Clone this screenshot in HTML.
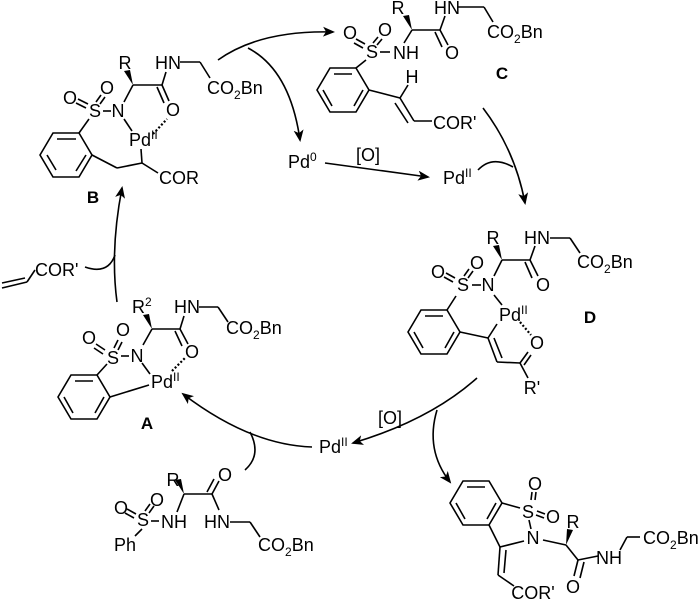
<!DOCTYPE html>
<html><head><style>
html,body{margin:0;padding:0;background:#fff}
svg{display:block}
text{font-family:"Liberation Sans",Arial,sans-serif;font-size:18px;fill:#000}
.m{text-anchor:middle}
.b{font-weight:bold;font-size:17px}
.s{font-size:12px}
</style></head><body>
<svg width="700" height="600" viewBox="0 0 700 600" xmlns="http://www.w3.org/2000/svg">
<defs>
<marker id="ah" markerWidth="12" markerHeight="10" refX="10" refY="5" orient="auto" markerUnits="userSpaceOnUse">
<path d="M0,0 L12,5 L0,10 L3,5 Z" fill="#000"/></marker>
</defs>
<g stroke="#000" stroke-width="1.6" fill="none">
<!-- B -->
<polygon points="40,155 53,133 79,133 92,155 79,177 53,177"/>
<line x1="57" y1="139" x2="76" y2="139"/><line x1="47" y1="155" x2="56" y2="170"/><line x1="86" y1="155" x2="76" y2="171"/>
<line x1="79" y1="133" x2="89" y2="119"/>
<line x1="88" y1="104" x2="78" y2="99"/><line x1="86" y1="108" x2="76" y2="103"/>
<line x1="96" y1="102" x2="101" y2="95"/><line x1="100" y1="104" x2="105" y2="97"/>
<line x1="103" y1="111" x2="111" y2="111"/>
<line x1="124" y1="102" x2="133" y2="85"/><line x1="133" y1="85" x2="162" y2="85"/>
<line x1="162" y1="85" x2="166" y2="72"/><line x1="162" y1="85" x2="169" y2="101"/><line x1="157" y1="87" x2="164" y2="103"/>
<line x1="180" y1="62" x2="200" y2="62"/><line x1="200" y1="62" x2="210" y2="78"/>
<line x1="124" y1="119" x2="132" y2="131"/>
<line x1="92" y1="155" x2="117" y2="168"/><line x1="117" y1="168" x2="142" y2="163"/><line x1="142" y1="163" x2="141" y2="149"/><line x1="142" y1="163" x2="158" y2="173"/>
<line x1="153" y1="134" x2="167" y2="119" stroke-dasharray="2,2" stroke-width="2.2"/>
<!-- C -->
<polygon points="317,90 330,68 356,68 369,90 356,112 330,112"/>
<line x1="334" y1="74" x2="352" y2="74"/><line x1="323" y1="90" x2="332" y2="106"/><line x1="363" y1="90" x2="354" y2="106"/>
<line x1="356" y1="68" x2="366" y2="60"/>
<line x1="365" y1="44" x2="356" y2="39"/><line x1="363" y1="48" x2="354" y2="43"/>
<line x1="373" y1="43" x2="378" y2="37"/><line x1="377" y1="45" x2="382" y2="39"/>
<line x1="380" y1="52" x2="390" y2="52"/>
<line x1="404" y1="43" x2="412" y2="30"/><line x1="412" y1="30" x2="440" y2="30"/>
<line x1="440" y1="30" x2="445" y2="16"/><line x1="440" y1="30" x2="448" y2="45"/><line x1="435" y1="32" x2="442" y2="47"/>
<line x1="458" y1="7" x2="484" y2="7"/><line x1="484" y1="7" x2="493" y2="22"/>
<line x1="369" y1="90" x2="400" y2="98"/><line x1="400" y1="98" x2="408" y2="85"/>
<line x1="400" y1="98" x2="414" y2="121"/><line x1="395" y1="103" x2="408" y2="123"/><line x1="414" y1="121" x2="432" y2="121"/>
<!-- D -->
<polygon points="408,332 421,310 447,310 460,332 447,354 421,354"/>
<line x1="425" y1="316" x2="443" y2="316"/><line x1="414" y1="332" x2="423" y2="348"/><line x1="454" y1="332" x2="445" y2="348"/>
<line x1="447" y1="310" x2="456" y2="296"/>
<line x1="455" y1="278" x2="446" y2="273"/><line x1="453" y1="282" x2="444" y2="277"/>
<line x1="464" y1="276" x2="469" y2="269"/><line x1="468" y1="278" x2="473" y2="271"/>
<line x1="472" y1="285" x2="481" y2="285"/>
<line x1="494" y1="276" x2="502" y2="260"/><line x1="502" y1="260" x2="530" y2="260"/>
<line x1="530" y1="260" x2="535" y2="246"/><line x1="530" y1="260" x2="538" y2="276"/><line x1="525" y1="262" x2="532" y2="278"/>
<line x1="550" y1="238" x2="570" y2="238"/><line x1="570" y1="238" x2="580" y2="253"/>
<line x1="494" y1="295" x2="502" y2="305"/>
<line x1="460" y1="332" x2="488" y2="338"/><line x1="488" y1="338" x2="497" y2="324"/>
<line x1="488" y1="338" x2="497" y2="362"/><line x1="494" y1="338" x2="502" y2="358"/>
<line x1="497" y1="362" x2="520" y2="363"/><line x1="520" y1="363" x2="528" y2="352"/><line x1="524" y1="365" x2="531" y2="355"/><line x1="520" y1="363" x2="528" y2="378"/>
<line x1="520" y1="322" x2="531" y2="335" stroke-dasharray="2,2" stroke-width="2.2"/>
<!-- A -->
<polygon points="58,397 71,375 97,375 110,397 97,419 71,419"/>
<line x1="75" y1="381" x2="93" y2="381"/><line x1="64" y1="397" x2="73" y2="413"/><line x1="104" y1="397" x2="95" y2="413"/>
<line x1="97" y1="375" x2="107" y2="364"/>
<line x1="105" y1="350" x2="96" y2="344"/><line x1="103" y1="354" x2="94" y2="348"/>
<line x1="114" y1="348" x2="118" y2="340"/><line x1="118" y1="350" x2="122" y2="342"/>
<line x1="121" y1="356" x2="129" y2="356"/>
<line x1="143" y1="345" x2="152" y2="329"/><line x1="152" y1="329" x2="180" y2="329"/>
<line x1="180" y1="329" x2="184" y2="316"/><line x1="180" y1="329" x2="188" y2="344"/><line x1="175" y1="331" x2="182" y2="346"/>
<line x1="199" y1="307" x2="218" y2="307"/><line x1="218" y1="307" x2="228" y2="322"/>
<line x1="142" y1="363" x2="150" y2="374"/>
<line x1="110" y1="397" x2="149" y2="385"/>
<line x1="172" y1="371" x2="186" y2="357" stroke-dasharray="2,2" stroke-width="2.2"/>
<!-- substrate -->
<line x1="136" y1="514" x2="127" y2="509"/><line x1="134" y1="518" x2="125" y2="513"/>
<line x1="145" y1="511" x2="150" y2="504"/><line x1="149" y1="513" x2="154" y2="506"/>
<line x1="151" y1="521" x2="159" y2="521"/>
<line x1="177" y1="512" x2="184" y2="494"/><line x1="184" y1="494" x2="212" y2="494"/>
<line x1="212" y1="494" x2="219" y2="481"/><line x1="207" y1="492" x2="214" y2="479"/>
<line x1="212" y1="494" x2="219" y2="510"/>
<line x1="230" y1="522" x2="250" y2="522"/><line x1="250" y1="522" x2="260" y2="537"/>
<line x1="142" y1="529" x2="135" y2="536"/>
<!-- product -->
<polygon points="450,503 463,481 489,481 502,503 489,525 463,525"/>
<line x1="467" y1="487" x2="485" y2="487"/><line x1="456" y1="503" x2="465" y2="519"/><line x1="496" y1="503" x2="487" y2="519"/>
<line x1="502" y1="503" x2="520" y2="508"/><line x1="489" y1="525" x2="500" y2="547"/>
<line x1="531" y1="500" x2="532" y2="492"/><line x1="535" y1="500" x2="536" y2="492"/>
<line x1="537" y1="511" x2="545" y2="514"/><line x1="536" y1="515" x2="544" y2="518"/>
<line x1="529" y1="520" x2="531" y2="529"/>
<line x1="524" y1="541" x2="500" y2="547"/>
<line x1="500" y1="547" x2="498" y2="575"/><line x1="506" y1="550" x2="504" y2="573"/>
<line x1="498" y1="575" x2="514" y2="586"/>
<line x1="543" y1="540" x2="566" y2="545"/>
<line x1="566" y1="545" x2="578" y2="560"/>
<line x1="578" y1="560" x2="574" y2="576"/><line x1="584" y1="562" x2="580" y2="578"/>
<line x1="578" y1="560" x2="598" y2="556"/>
<line x1="620" y1="550" x2="627" y2="537"/><line x1="627" y1="537" x2="640" y2="537"/>
<!-- acrylate -->
<line x1="2" y1="288" x2="27" y2="282"/><line x1="2" y1="283" x2="25" y2="278"/><line x1="27" y1="282" x2="35" y2="270"/>
<!-- arrows -->
<path d="M218,60 Q260,30 333,32" marker-end="url(#ah)"/>
<path d="M248,48 Q290,70 300,140" marker-end="url(#ah)"/>
<path d="M325,163 L428,177" marker-end="url(#ah)"/>
<path d="M483,108 Q515,150 525,203" marker-end="url(#ah)"/>
<path d="M478,170 Q492,155 513,167"/>
<path d="M477,378 Q430,420 353,443" marker-end="url(#ah)"/>
<path d="M437,410 Q425,450 450,482" marker-end="url(#ah)"/>
<path d="M312,447 Q250,445 183,394" marker-end="url(#ah)"/>
<path d="M245,470 Q262,455 250,432"/>
<path d="M117,302 Q110,250 122,188" marker-end="url(#ah)"/>
<path d="M85,267 Q108,275 115,255"/>
</g>
<!-- wedges -->
<polygon points="133,85 124,71 130,70" fill="#000"/>
<polygon points="412,30 403,16 409,15" fill="#000"/>
<polygon points="502,260 493,246 499,245" fill="#000"/>
<polygon points="152,329 143,315 149,314" fill="#000"/>
<polygon points="184,494 175,480 181,479" fill="#000"/>
<polygon points="566,545 567,529 573,530" fill="#000"/>
<!-- B text -->
<text class="m" x="125" y="69">R</text><text class="m" x="168" y="69">HN</text>
<text x="207" y="94">CO<tspan class="s" dy="5">2</tspan><tspan dy="-5">Bn</tspan></text>
<text class="m" x="70" y="104">O</text><text class="m" x="107" y="94">O</text>
<text class="m" x="95" y="117">S</text><text class="m" x="118" y="117">N</text><text class="m" x="173" y="116">O</text>
<text x="129" y="146">Pd<tspan class="s" dy="-7">II</tspan></text>
<text x="159" y="184">COR</text><text class="b m" x="93" y="203">B</text>
<!-- C -->
<text class="m" x="398" y="14">R</text><text class="m" x="447" y="14">HN</text>
<text x="487" y="38">CO<tspan class="s" dy="5">2</tspan><tspan dy="-5">Bn</tspan></text>
<text class="m" x="350" y="39">O</text><text class="m" x="385" y="36">O</text>
<text class="m" x="372" y="58">S</text><text class="m" x="406" y="59">NH</text><text class="m" x="452" y="59">O</text>
<text class="b m" x="502" y="79">C</text>
<text class="m" x="412" y="83">H</text><text x="433" y="129">COR'</text>
<!-- Pd0 etc -->
<text x="288" y="168">Pd<tspan class="s" dy="-7">0</tspan></text>
<text class="m" x="368" y="161">[O]</text>
<text x="443" y="184">Pd<tspan class="s" dy="-7">II</tspan></text>
<!-- D -->
<text class="m" x="493" y="244">R</text><text class="m" x="537" y="244">HN</text>
<text x="577" y="268">CO<tspan class="s" dy="5">2</tspan><tspan dy="-5">Bn</tspan></text>
<text class="m" x="438" y="278">O</text><text class="m" x="477" y="269">O</text>
<text class="m" x="463" y="291">S</text><text class="m" x="488" y="291">N</text><text class="m" x="543" y="291">O</text>
<text x="499" y="321">Pd<tspan class="s" dy="-7">II</tspan></text><text class="b m" x="590" y="323">D</text>
<text class="m" x="537" y="349">O</text><text class="m" x="532" y="394">R'</text>
<!-- A -->
<text x="132" y="313">R<tspan class="s" dy="-7">2</tspan></text><text class="m" x="187" y="313">HN</text>
<text x="226" y="334">CO<tspan class="s" dy="5">2</tspan><tspan dy="-5">Bn</tspan></text>
<text class="m" x="89" y="344">O</text><text class="m" x="123" y="336">O</text>
<text class="m" x="113" y="364">S</text><text class="m" x="137" y="362">N</text><text class="m" x="192" y="358">O</text>
<text x="151" y="388">Pd<tspan class="s" dy="-7">II</tspan></text><text class="b m" x="147" y="429">A</text>
<!-- acrylate -->
<text x="35" y="276">COR'</text>
<!-- PdII bottom -->
<text x="319" y="453">Pd<tspan class="s" dy="-7">II</tspan></text>
<text class="m" x="390" y="424">[O]</text>
<!-- substrate -->
<text class="m" x="173" y="486">R</text><text class="m" x="225" y="481">O</text>
<text class="m" x="121" y="514">O</text><text class="m" x="157" y="506">O</text>
<text class="m" x="143" y="526">S</text><text class="m" x="174" y="528">NH</text><text class="m" x="217" y="528">HN</text>
<text class="m" x="125" y="551">Ph</text>
<text x="258" y="551">CO<tspan class="s" dy="5">2</tspan><tspan dy="-5">Bn</tspan></text>
<!-- product -->
<text class="m" x="535" y="490">O</text><text class="m" x="528" y="518">S</text><text class="m" x="553" y="523">O</text>
<text class="m" x="533" y="544">N</text><text class="m" x="573" y="528">R</text><text class="m" x="609" y="564">NH</text>
<text x="643" y="544">CO<tspan class="s" dy="5">2</tspan><tspan dy="-5">Bn</tspan></text>
<text class="m" x="573" y="593">O</text><text class="m" x="533" y="599">COR'</text>
</svg>
</body></html>
